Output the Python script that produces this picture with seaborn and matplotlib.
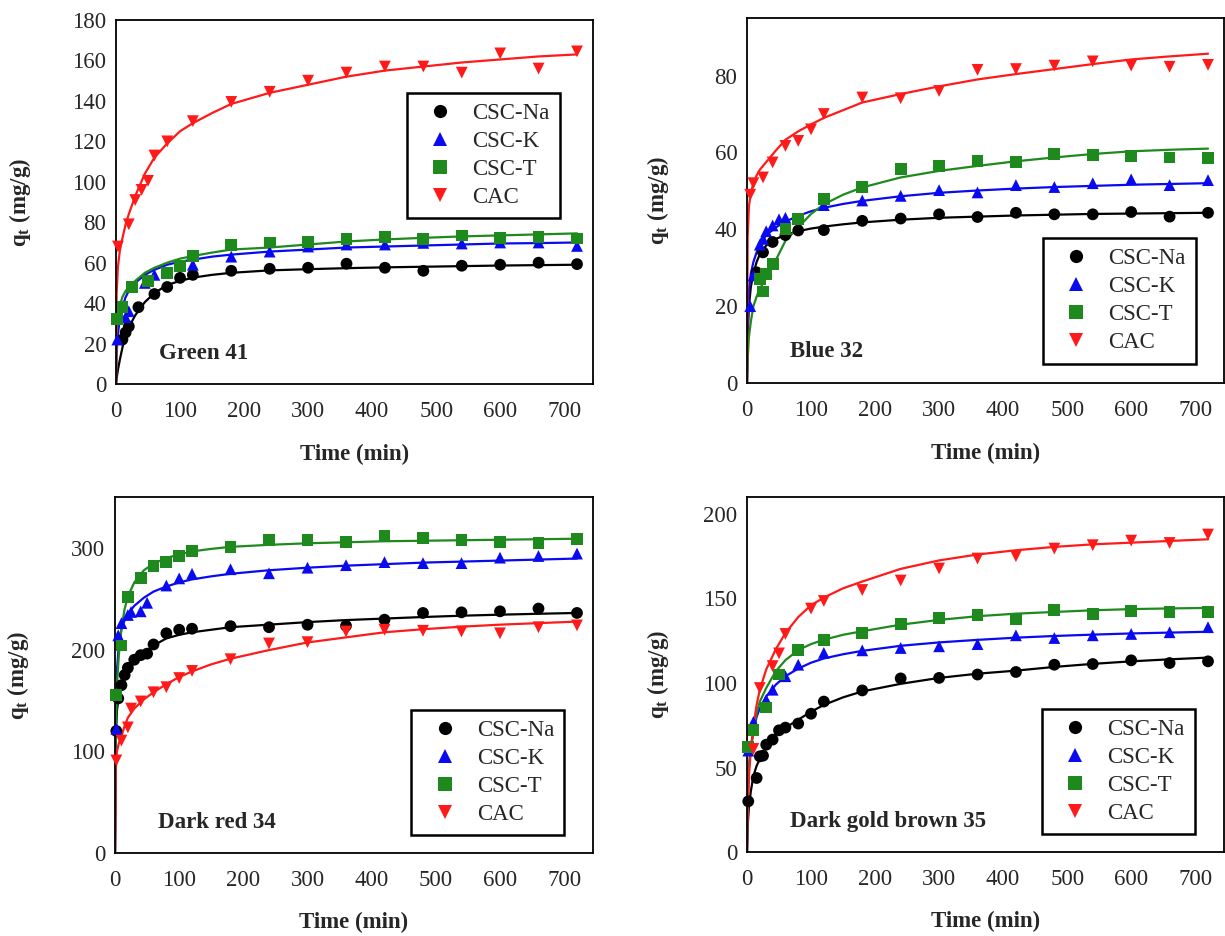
import matplotlib
matplotlib.use("Agg")
import matplotlib.pyplot as plt
import seaborn as sns
import pandas as pd
from matplotlib.ticker import MultipleLocator

# sorbents, colours and markers
sorbents = ["CSC-Na", "CSC-K", "CSC-T", "CAC"]
colors = ["#000000", "#0a0af0", "#1e8a1e", "#ff1a1a"]
markers = ["o", "^", "s", "v"]

# time grid of the fitted curves (min)
fit_t = [0, 1, 3, 6, 10, 15, 20, 30, 45, 60, 80, 100, 120, 150, 180, 240, 300, 360, 420, 480, 540, 600, 660, 720]

# ---- Green 41 ----
g41_na_t = [10, 15, 20, 35, 60, 80, 100, 120, 180, 240, 300, 360, 420, 480, 540, 600, 660, 720]
g41_na_q = [22, 25.5, 28.5, 38, 44.5, 48, 52.5, 54, 56, 57, 57.5, 59.5, 57.5, 56, 58.5, 59, 60, 59.3]
g41_k_t = [2, 15, 20, 45, 60, 120, 180, 240, 300, 360, 420, 480, 540, 600, 660, 720]
g41_k_q = [22, 33, 36, 50, 54, 59, 63, 65.5, 68, 69, 69, 69.8, 69.5, 70, 70, 68.3]
g41_t_t = [2, 10, 25, 50, 80, 100, 120, 180, 240, 300, 360, 420, 480, 540, 600, 660, 720]
g41_t_q = [32, 38, 48, 51, 55, 58.5, 63.5, 68.6, 70, 70.2, 71.8, 72.7, 71.8, 73.5, 72.3, 72.7, 72]
g41_cac_t = [3, 20, 30, 40, 50, 60, 80, 120, 180, 240, 300, 360, 420, 480, 540, 600, 660, 720]
g41_cac_q = [68, 79, 91, 96, 100.5, 113, 120, 130, 139.5, 144.5, 150, 154, 157, 157, 154, 163.5, 156, 164.5]
g41_na_fit = [0, 3, 7, 12, 18, 24, 28, 34, 40.5, 45, 49, 51, 52.6, 54, 55, 56.2, 56.8, 57.3, 57.7, 58, 58.3, 58.6, 58.8, 59]
g41_k_fit = [0, 15, 25, 32, 38, 43, 46, 50, 54, 56.5, 59, 60.5, 61.5, 63, 64, 65.5, 66.5, 67.5, 68, 68.5, 69, 69.5, 69.7, 70]
g41_t_fit = [0, 25, 34, 39, 43, 46, 48, 51, 55, 57.5, 60, 62, 63.3, 65, 66.5, 67.5, 69, 70.5, 71.5, 72.3, 73, 73.5, 74, 74.5]
g41_cac_fit = [0, 45, 58, 66, 72, 79, 84, 93, 104, 112, 119, 125, 129, 134, 138.5, 144, 148, 152, 155, 157, 159, 160.5, 162, 163]

# ---- Blue 32 ----
b32_na_t = [15, 25, 40, 60, 80, 120, 180, 240, 300, 360, 420, 480, 540, 600, 660, 720]
b32_na_q = [28.8, 34, 36.7, 38.5, 39.7, 39.8, 42.2, 42.8, 43.9, 43.2, 44.3, 43.9, 43.9, 44.5, 43.3, 44.3]
b32_k_t = [5, 10, 20, 25, 30, 40, 50, 60, 120, 180, 240, 300, 360, 420, 480, 540, 600, 660, 720]
b32_k_q = [20, 28, 36, 37.5, 39.5, 41, 42.6, 43, 46.3, 47.5, 48.7, 50.2, 49.6, 51.5, 51, 52, 53, 51.5, 52.8]
b32_t_t = [20, 25, 30, 40, 60, 80, 120, 180, 240, 300, 360, 420, 480, 540, 600, 660, 720]
b32_t_q = [27, 23.8, 28.3, 31, 40, 42.6, 47.8, 51, 55.7, 56.5, 57.8, 57.6, 59.6, 59.4, 59, 58.7, 58.5]
b32_cac_t = [5, 10, 25, 40, 60, 80, 100, 120, 180, 240, 300, 360, 420, 480, 540, 600, 660, 720]
b32_cac_q = [49, 52, 53.5, 57.4, 61.7, 63, 66, 70, 74.3, 74.1, 76, 81.5, 81.7, 82.6, 83.7, 82.6, 82.3, 82.8]
b32_na_fit = [0, 12, 20, 25, 28.5, 31.5, 33.5, 35.8, 37.5, 38.5, 39.5, 40.2, 40.7, 41.3, 41.8, 42.5, 43, 43.3, 43.6, 43.8, 44, 44.1, 44.2, 44.3]
b32_k_fit = [0, 15, 24, 28.5, 31.5, 34, 36, 38.5, 40.5, 42, 43.5, 44.7, 45.6, 46.6, 47.4, 48.6, 49.5, 50.1, 50.6, 51, 51.3, 51.6, 51.8, 52]
b32_t_fit = [0, 6, 12, 16, 20, 22.5, 24.5, 27.5, 32, 37, 40.5, 44, 46.5, 49, 50.9, 53.5, 55.2, 56.5, 57.7, 58.7, 59.6, 60.3, 60.7, 61]
b32_cac_fit = [0, 38, 46, 49.5, 52, 54, 55.5, 57.5, 60.5, 63.3, 65.5, 67.3, 69, 71, 73, 75.2, 77.2, 79, 80.4, 81.7, 83, 84.2, 85, 85.7]

# ---- Dark red 34 ----
dr34_na_t = [2, 5, 10, 15, 20, 30, 40, 50, 60, 80, 100, 120, 180, 240, 300, 360, 420, 480, 540, 600, 660, 720]
dr34_na_q = [120, 152, 165, 175, 182, 190, 194.5, 196, 205, 216, 219.5, 220.5, 223, 222, 224.4, 223.4, 229.4, 236, 236.6, 237.6, 240.3, 236]
dr34_k_t = [2, 5, 10, 20, 25, 40, 50, 80, 100, 120, 180, 240, 300, 360, 420, 480, 540, 600, 660, 720]
dr34_k_q = [122, 214, 226, 234, 237, 237.6, 246, 263, 270, 274.5, 279, 275, 280.5, 283, 286, 285, 285, 290.4, 292, 294.4]
dr34_t_t = [2, 10, 20, 40, 60, 80, 100, 120, 180, 240, 300, 360, 420, 480, 540, 600, 660, 720]
dr34_t_q = [155, 204, 252, 270, 282, 286, 292, 297, 301, 308, 307.6, 306, 312, 309.6, 307.6, 306, 304.6, 308.6]
dr34_cac_t = [2, 10, 20, 25, 40, 60, 80, 100, 120, 180, 240, 300, 360, 420, 480, 540, 600, 660, 720]
dr34_cac_q = [91, 110.5, 123.5, 142, 149, 158, 163, 172, 179, 190.5, 206, 207.3, 217.8, 219.5, 218.5, 217.8, 216, 222, 223.8]
dr34_na_fit = [0, 110, 140, 155, 165, 174, 180, 187, 196, 204, 211, 214.5, 217, 219.5, 222, 224.5, 227, 229, 230.5, 232, 233.3, 234.3, 235.2, 236]
dr34_k_fit = [0, 120, 180, 205, 220, 229, 235, 243, 251, 257, 262, 266, 269, 272, 274.5, 278, 280.5, 282.5, 284, 285.5, 286.5, 287.5, 288.5, 289.5]
dr34_t_fit = [0, 110, 165, 195, 221, 240, 252, 266, 278, 284.5, 290, 293.5, 296.5, 299, 301, 303, 304.5, 305.5, 306.5, 307, 307.5, 308, 308.5, 309]
dr34_cac_fit = [0, 80, 100, 108, 115, 125, 133, 142, 151, 158, 166, 173, 178.5, 185.5, 191, 199.5, 207, 212, 217, 220, 222.5, 224.5, 226, 227.5]

# ---- Dark gold brown 35 ----
dgb35_na_t = [2, 15, 20, 25, 30, 40, 50, 60, 80, 100, 120, 180, 240, 300, 360, 420, 480, 540, 600, 660, 720]
dgb35_na_q = [30, 43.8, 56.6, 57, 63.5, 66.5, 72, 73.6, 76, 81.8, 89, 95.6, 102.7, 103, 105, 106.5, 110.8, 111.2, 113.4, 111.8, 112.8]
dgb35_k_t = [2, 10, 30, 40, 60, 80, 120, 180, 240, 300, 360, 420, 480, 540, 600, 660, 720]
dgb35_k_q = [60, 77, 90, 96, 104, 110.8, 117.8, 119.3, 120.7, 121.7, 123, 128.2, 126.6, 128.2, 129, 130, 133]
dgb35_t_t = [2, 10, 30, 50, 80, 120, 180, 240, 300, 360, 420, 480, 540, 600, 660, 720]
dgb35_t_q = [62, 72.4, 85.5, 105, 119.5, 125.3, 129.6, 135, 138.5, 140.4, 137.5, 143.4, 140.8, 142.8, 142, 141.8]
dgb35_cac_t = [10, 20, 40, 50, 60, 100, 120, 180, 240, 300, 360, 420, 480, 540, 600, 660, 720]
dgb35_cac_q = [61, 97, 110, 117.5, 129, 144, 148.5, 155, 160.6, 167.7, 173.6, 175, 179.5, 181.5, 184.2, 182.8, 187.8]
dgb35_na_fit = [0, 15, 27, 36, 45, 51, 55, 62, 69.5, 73.5, 78.3, 83, 87, 91.5, 95, 99.5, 103, 105.5, 107.3, 109.5, 111.3, 112.8, 114, 115]
dgb35_k_fit = [0, 30, 50, 62, 71, 80, 85, 92, 99, 104, 108.5, 112, 114.5, 117, 119, 122, 124, 125.5, 126.8, 127.8, 128.6, 129.3, 129.8, 130.3]
dgb35_t_fit = [0, 30, 50, 62, 72, 82, 89, 97, 107, 113.5, 119.5, 123, 125.6, 128.5, 130.6, 134.5, 137.3, 139.5, 141, 142, 143, 143.7, 144.1, 144.4]
dgb35_cac_fit = [0, 25, 45, 60, 74, 87, 96, 108, 120, 129.5, 139, 146, 150.5, 156, 160, 167.5, 172.5, 176, 178.5, 180.5, 182, 183, 184, 185]

sns.set_style("white")
plt.rcParams["font.family"] = ["Liberation Serif", "DejaVu Serif"]
plt.rcParams["mathtext.fontset"] = "custom"
plt.rcParams["mathtext.rm"] = "Liberation Serif"
plt.rcParams["mathtext.bf"] = "Liberation Serif:bold"
FS = 16.5

palette = dict(zip(sorbents, colors))
marker_map = dict(zip(sorbents, markers))


def make_frames(points, fits):
    rows = []
    for name, (t, q) in zip(sorbents, points):
        rows += [{"t": a, "q": b, "sorbent": name} for a, b in zip(t, q)]
    frows = []
    for name, q in zip(sorbents, fits):
        frows += [{"t": a, "q": b, "sorbent": name} for a, b in zip(fit_t, q)]
    return pd.DataFrame(rows), pd.DataFrame(frows)


def draw_panel(ax, title, points, fits, ymax, major, minor, leg_xy, ylab_x):
    df_pts, df_fit = make_frames(points, fits)
    sns.lineplot(data=df_fit, x="t", y="q", hue="sorbent", hue_order=sorbents,
                 palette=palette, estimator=None, sort=False, linewidth=1.6,
                 legend=False, ax=ax)
    sns.scatterplot(data=df_pts, x="t", y="q", hue="sorbent", style="sorbent",
                    hue_order=sorbents, style_order=sorbents, palette=palette,
                    markers=marker_map, s=72, linewidth=0, clip_on=False,
                    zorder=3, ax=ax)
    leg = ax.get_legend()
    handles = leg.legend_handles
    labels = [t.get_text() for t in leg.get_texts()]
    leg.remove()
    for h in handles:
        h.set_markersize(9.5)
    lg = ax.legend(handles, labels, loc="upper left", bbox_to_anchor=leg_xy,
                   borderaxespad=0, fancybox=False, edgecolor="black",
                   framealpha=1, fontsize=FS, borderpad=0.45, labelspacing=0.3,
                   handlelength=2.0, handletextpad=0.4)
    lg.get_frame().set_linewidth(1.8)

    ax.set_xlim(0, 745)
    ax.set_ylim(0, ymax)
    ax.xaxis.set_major_locator(MultipleLocator(100))
    ax.xaxis.set_minor_locator(MultipleLocator(50))
    ax.yaxis.set_major_locator(MultipleLocator(major))
    ax.yaxis.set_minor_locator(MultipleLocator(minor))
    ax.tick_params(which="both", direction="in", length=4.5, width=1.2,
                   top=False, right=False, labelsize=FS)
    ax.tick_params(axis="x", which="major", pad=12)
    ax.tick_params(axis="y", which="major", pad=7)
    for sp in ax.spines.values():
        sp.set_linewidth(1.3)
        sp.set_color("black")
    ax.set_xlabel("Time (min)", fontsize=FS, fontweight="bold")
    ax.xaxis.set_label_coords(0.5, -0.165)
    ax.set_ylabel(r"q$_{\mathbf{t}}$ (mg/g)", fontsize=FS, fontweight="bold")
    ax.yaxis.set_label_coords(ylab_x, 0.5)
    ax.text(0.09, 0.085, title, transform=ax.transAxes, fontsize=FS,
            fontweight="bold", va="center", ha="left")


fig = plt.figure(figsize=(12.25, 9.36), dpi=100)
ax1 = fig.add_axes([0.0947, 0.5897, 0.3894, 0.3889])
ax2 = fig.add_axes([0.6098, 0.5908, 0.3894, 0.3900])
ax3 = fig.add_axes([0.0939, 0.0887, 0.3902, 0.3803])
ax4 = fig.add_axes([0.6098, 0.0897, 0.3894, 0.3793])

draw_panel(ax1, "Green 41",
           [(g41_na_t, g41_na_q), (g41_k_t, g41_k_q), (g41_t_t, g41_t_q), (g41_cac_t, g41_cac_q)],
           [g41_na_fit, g41_k_fit, g41_t_fit, g41_cac_fit], 180, 20, 10, (0.61, 0.80), -0.175)
draw_panel(ax2, "Blue 32",
           [(b32_na_t, b32_na_q), (b32_k_t, b32_k_q), (b32_t_t, b32_t_q), (b32_cac_t, b32_cac_q)],
           [b32_na_fit, b32_k_fit, b32_t_fit, b32_cac_fit], 95, 20, 10, (0.62, 0.397), -0.16)
draw_panel(ax3, "Dark red 34",
           [(dr34_na_t, dr34_na_q), (dr34_k_t, dr34_k_q), (dr34_t_t, dr34_t_q), (dr34_cac_t, dr34_cac_q)],
           [dr34_na_fit, dr34_k_fit, dr34_t_fit, dr34_cac_fit], 350, 100, 50, (0.62, 0.402), -0.175)
draw_panel(ax4, "Dark gold brown 35",
           [(dgb35_na_t, dgb35_na_q), (dgb35_k_t, dgb35_k_q), (dgb35_t_t, dgb35_t_q), (dgb35_cac_t, dgb35_cac_q)],
           [dgb35_na_fit, dgb35_k_fit, dgb35_t_fit, dgb35_cac_fit], 210, 50, 25, (0.618, 0.403), -0.16)

fig.savefig("out.png", dpi=100)
